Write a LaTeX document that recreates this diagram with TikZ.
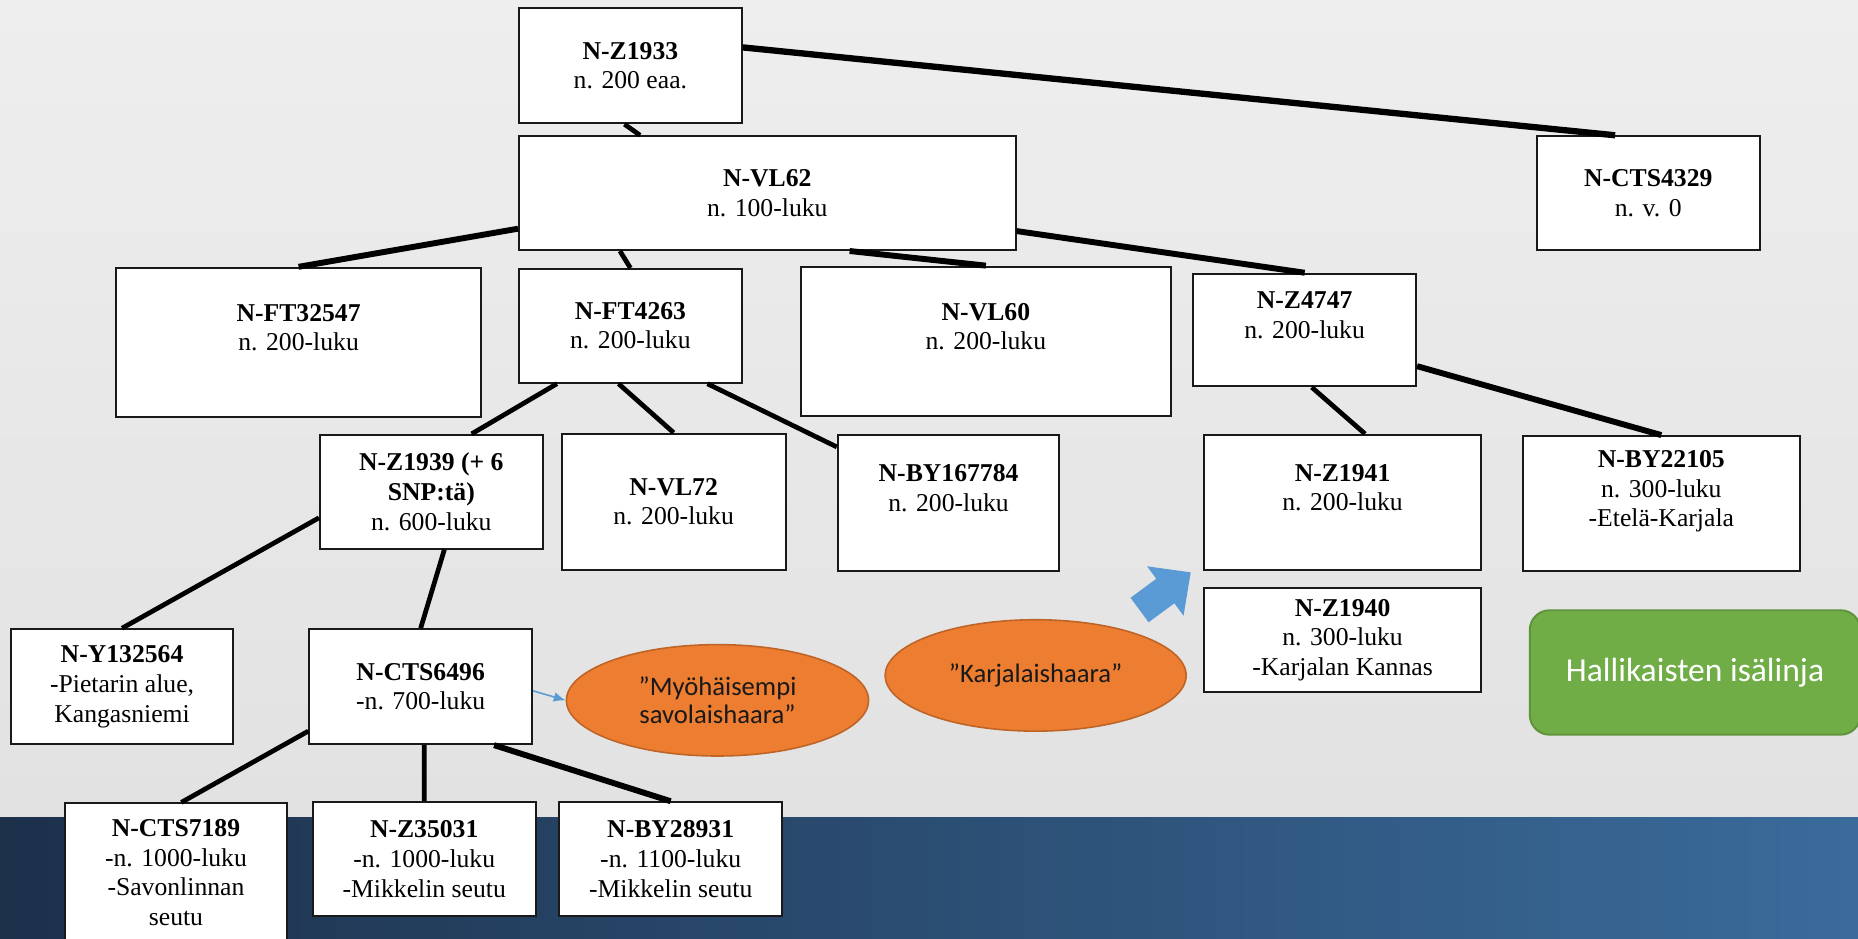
\documentclass[tikz,border=0pt]{standalone}
\usepackage{fontspec}
\setmainfont{Liberation Serif}
\newfontfamily\calibri{Carlito}
\usepackage{xcolor}
\definecolor{slidetop}{RGB}{238,238,238}
\definecolor{slidebottom}{RGB}{224,224,224}
\definecolor{banddark}{RGB}{28,48,74}
\definecolor{bandmid}{RGB}{45,90,136}
\definecolor{bandlight}{RGB}{58,107,155}
\definecolor{haaraorange}{RGB}{237,125,49}
\definecolor{linjagreen}{RGB}{112,173,71}
\definecolor{arrowblue}{RGB}{91,155,213}
\usepackage{tikz}
\usetikzlibrary{shapes.geometric,arrows.meta}
\tikzstyle{hap} = [rectangle, draw=black!90, line width=1pt, fill=white,
  align=center, inner sep=2pt, font=\fontsize{13}{15}\selectfont]
\tikzstyle{haara} = [ellipse, draw=haaraorange!80!black, line width=0.8pt,
  fill=haaraorange, align=center, inner sep=0pt, text=black!90,
  font=\calibri\fontsize{13.5}{14}\selectfont]
\tikzstyle{link} = [line width=2.4pt]
\tikzset{wh/.style 2 args={minimum width=#1*0.6pt, minimum height=#2*0.6pt}}
\newcommand{\lift}{\rule[-15pt]{0pt}{15pt}}

\begin{document}
\begin{tikzpicture}[x=0.6pt, y=-0.6pt]
  \useasboundingbox (0, 0) rectangle (1568, 792);
  \clip (0, 0) rectangle (1568, 792);
  \shade[top color=slidetop, bottom color=slidebottom] (0, 0) rectangle (1568, 792);
  \shade[left color=banddark, middle color=bandmid, right color=bandlight]
    (0, 690) rectangle (1568, 792);
  % top
  \node[hap, wh={188}{97}] (z1933) at (532, 55.5) {\textbf{N-Z1933}\\n. 200 eaa.};
  \node[hap, wh={419}{96}] (vl62) at (647.5, 163) {\textbf{N-VL62}\\n. 100-luku};
  \node[hap, wh={188}{96}] (cts4329) at (1391, 163) {\textbf{N-CTS4329}\\n. v. 0};
  % 200-luku
  \node[hap, wh={308}{126}] (ft32547) at (252, 289) {\textbf{N-FT32547}\\n. 200-luku\lift};
  \node[hap, wh={188}{96}] (ft4263) at (532, 275) {\textbf{N-FT4263}\\n. 200-luku};
  \node[hap, wh={312}{126}] (vl60) at (832, 288) {\textbf{N-VL60}\\n. 200-luku\lift};
  \node[hap, wh={188}{95}] (z4747) at (1101, 278.5) {\textbf{N-Z4747}\\n. 200-luku\lift};
  % third row
  \node[hap, wh={188}{96}] (z1939) at (364, 415) {\textbf{N-Z1939 (+ 6}\\\textbf{SNP:tä)}\\n. 600-luku};
  \node[hap, wh={189}{115}] (vl72) at (568.5, 423.5) {\textbf{N-VL72}\\n. 200-luku};
  \node[hap, wh={187}{115}] (by167784) at (800.5, 424.5) {\textbf{N-BY167784}\\n. 200-luku\lift};
  \node[hap, wh={234}{114}] (z1941) at (1133, 424) {\textbf{N-Z1941}\\n. 200-luku\lift};
  \node[hap, wh={234}{114}] (by22105) at (1402, 425) {\textbf{N-BY22105}\\n. 300-luku\\-Etelä-Karjala\lift};
  % fourth row
  \node[hap, wh={188}{97}] (y132564) at (103, 579.5) {\textbf{N-Y132564}\\-Pietarin alue,\\Kangasniemi};
  \node[hap, wh={188}{97}] (cts6496) at (355, 579.5) {\textbf{N-CTS6496}\\-n. 700-luku};
  \node[hap, wh={234}{88}] (z1940) at (1133, 540) {\textbf{N-Z1940}\\n. 300-luku\\-Karjalan Kannas};
  % bottom
  \node[hap, wh={187}{117}] (cts7189) at (148.5, 736.5) {\textbf{N-CTS7189}\\-n. 1000-luku\\-Savonlinnan\\seutu};
  \node[hap, wh={188}{96}] (z35031) at (358, 725) {\textbf{N-Z35031}\\-n. 1000-luku\\-Mikkelin seutu};
  \node[hap, wh={188}{96}] (by28931) at (566, 725) {\textbf{N-BY28931}\\-n. 1100-luku\\-Mikkelin seutu};
  % branches
  \node[haara, wh={255}{94}] (myo) at (605.5, 591) {”Myöhäisempi\\savolaishaara”};
  \node[haara, wh={254}{94}] (karj) at (874, 570) {”Karjalaishaara”};
  \node[rectangle, rounded corners=10pt, fill=linjagreen, draw=linjagreen!85!black,
    line width=1pt, wh={279}{105}, text=white, font=\calibri\fontsize{17}{20}\selectfont]
    (isalinja) at (1430.5, 567.5) {Hallikaisten isälinja};
  % tree
  \draw[link, line width=3.2pt] ([yshift=9.3pt]z1933.east) -- ([xshift=-16.8pt]cts4329.north);
  \draw[link] ([xshift=-3pt]z1933.south) -- ([xshift=61.8pt]vl62.north west);
  \draw[link, line width=3pt] ([yshift=-18pt]vl62.west) -- (ft32547.north);
  \draw[link] ([xshift=51.6pt]vl62.south west) -- (ft4263.north);
  \draw[link, line width=3pt] ([xshift=41.7pt]vl62.south) -- (vl60.north);
  \draw[link, line width=3pt] ([yshift=-19.2pt]vl62.east) -- (z4747.north);
  \draw[link] ([xshift=-37.2pt]ft4263.south) -- ([xshift=20.4pt]z1939.north);
  \draw[link] ([xshift=-6pt]ft4263.south) -- (vl72.north);
  \draw[link] ([xshift=39pt]ft4263.south) -- ([yshift=-6.6pt]by167784.north west);
  \draw[link] ([xshift=3.6pt]z4747.south) -- ([xshift=11.4pt]z1941.north);
  \draw[link, line width=3pt] ([yshift=-18.3pt]z4747.east) -- (by22105.north);
  \draw[link] ([yshift=-13.2pt]z1939.west) -- (y132564.north);
  \draw[link] ([xshift=6.6pt]z1939.south) -- (cts6496.north);
  \draw[link] ([yshift=-22.5pt]cts6496.west) -- ([xshift=2.7pt]cts7189.north);
  \draw[link] ([xshift=1.8pt]cts6496.south) -- (z35031.north);
  \draw[link, line width=3pt] ([xshift=37.2pt]cts6496.south) -- (by28931.north);
  % arrows
  \draw[arrowblue, line width=0.8pt, -{Latex[length=6pt, width=5pt]}]
    ([yshift=-2.1pt]cts6496.east) -- (myo.west);
  \fill[arrowblue, shift={(961.7, 514.8)}, rotate=36.4] (0, -12.85) -- (27, -12.85)
    -- (27, -25.9) -- (53.6, 0) -- (27, 25.9) -- (27, 12.85) -- (0, 12.85) -- cycle;
\end{tikzpicture}
\end{document}
